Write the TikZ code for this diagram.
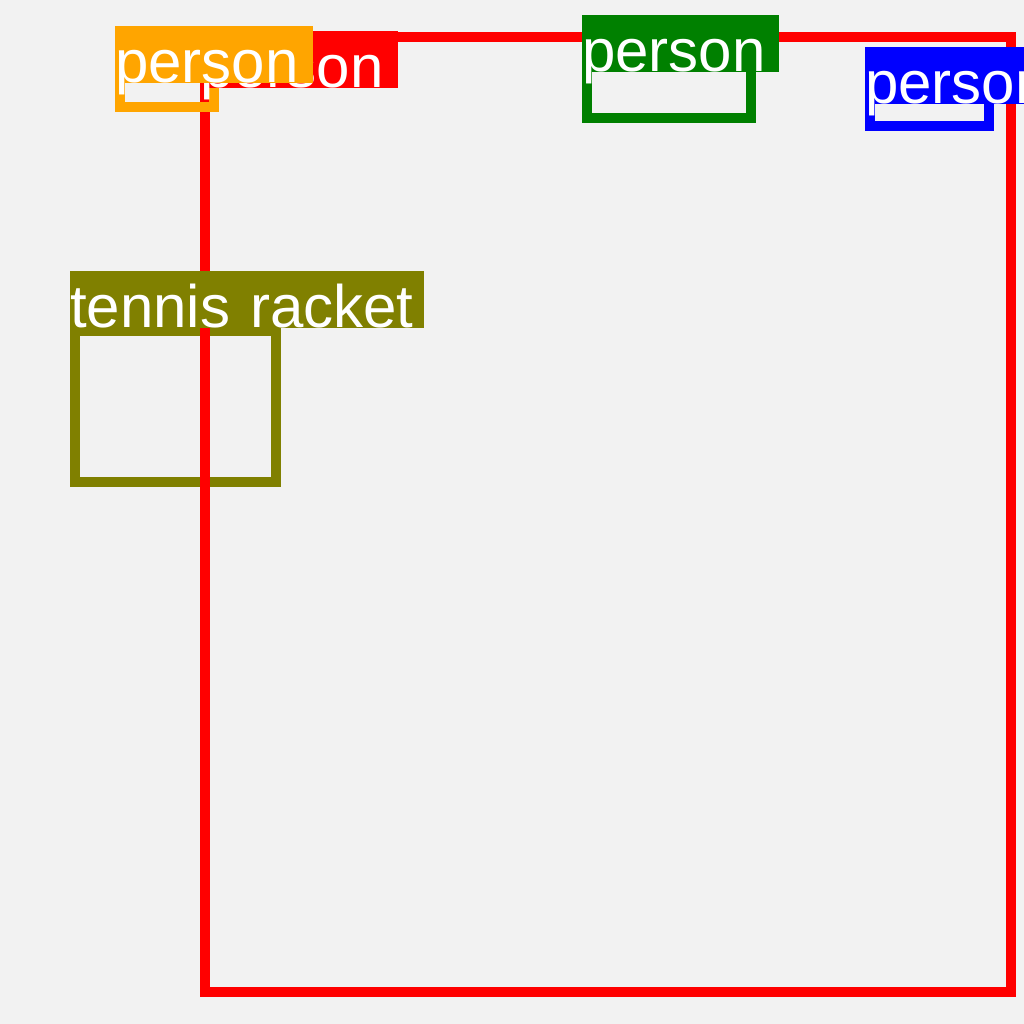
\documentclass[tikz,border=0pt]{standalone}
\usepackage{fontspec}
\setmainfont{Liberation Sans}
\usepackage{xcolor}
\usepackage{tikz}
\definecolor{bgray}{HTML}{F2F2F2}
\definecolor{bred}{HTML}{FF0000}
\definecolor{borange}{HTML}{FFA500}
\definecolor{bgreen}{HTML}{008000}
\definecolor{bblue}{HTML}{0000FF}
\definecolor{bolive}{HTML}{808000}
\tikzset{
  box/.style = {draw=#1, line width=10pt},
  tag/.style = {fill=#1, text=white, anchor=south west, inner sep=0pt,
                text height=57pt, text depth=0pt, align=left,
                font=\fontsize{60}{72}\selectfont}
}

\begin{document}
\begin{tikzpicture}
  [
    x = 1pt,
    y = -1pt
  ]
  \clip (0,0) rectangle (1024,1024);
  \fill [bgray] (0,0) rectangle (1024,1024);
  % boxes
  \draw [box=bolive]  (75,331)  rectangle (276,482);
  \draw [box=bred]    (205,37)  rectangle (1011,992);
  \draw [box=borange] (120,32)  rectangle (214,107);
  \draw [box=bgreen]  (587,20)  rectangle (751,118);
  \draw [box=bblue]   (870,52)  rectangle (989,126);
  % labels
  \node (redtag)    [tag=bred, text width=198pt]    at (200,88)  {person};
  \node (orangetag) [tag=borange, text width=198pt] at (115,83)  {person};
  \node (greentag)  [tag=bgreen, text width=197pt]  at (582,72)  {person};
  \node (bluetag)   [tag=bblue, text width=198pt]   at (865,104) {person};
  \node (olivetag)  [tag=bolive, text width=354pt]  at (70,328)  {tennis racket};
\end{tikzpicture}
\end{document}
